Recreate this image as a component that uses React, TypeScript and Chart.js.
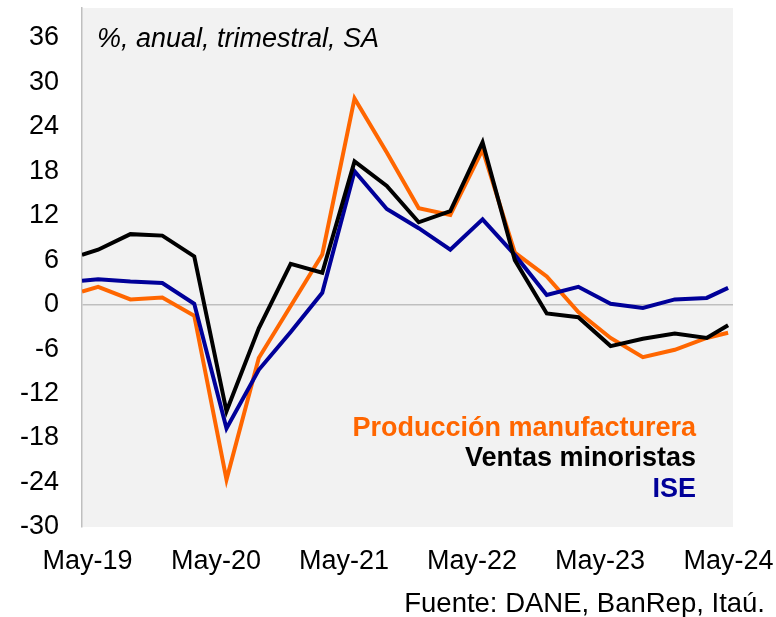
import { useEffect, useRef } from 'react';
import { Chart, registerables } from 'chart.js';

Chart.register(...registerables);

// Observation dates (quarterly, end of month) and values, % y/y
const pointDates = [
  '2019-04-15', '2019-05-31', '2019-08-31', '2019-11-30', '2020-02-29', '2020-05-31',
  '2020-08-31', '2020-11-30', '2021-02-28', '2021-05-31', '2021-08-31', '2021-11-30',
  '2022-02-28', '2022-05-31', '2022-08-31', '2022-11-30', '2023-02-28', '2023-05-31',
  '2023-08-31', '2023-11-30', '2024-02-29', '2024-04-30',
];
const produccionManufacturera = [
  1.75, 2.4, 0.7, 0.95, -1.5, -23.6, -7.2, -0.2, 6.75, 27.8, 20.5, 13.0,
  12.1, 20.9, 7.0, 3.8, -1.0, -4.5, -7.1, -6.1, -4.5, -3.8,
];
const ventasMinoristas = [
  6.7, 7.4, 9.5, 9.3, 6.5, -14.4, -3.2, 5.5, 4.3, 19.3, 16.0, 11.1,
  12.6, 21.9, 6.0, -1.2, -1.7, -5.6, -4.6, -3.9, -4.5, -2.8,
];
const ise = [
  3.2, 3.4, 3.1, 2.9, 0.1, -16.7, -8.8, -3.7, 1.6, 18.0, 12.9, 10.3,
  7.4, 11.5, 6.7, 1.3, 2.4, 0.1, -0.45, 0.7, 0.9, 2.25,
];
const xTickDates = ['2019-05-01', '2020-05-01', '2021-05-01', '2022-05-01', '2023-05-01', '2024-05-01'];
const xTickLabels = ['May-19', 'May-20', 'May-21', 'May-22', 'May-23', 'May-24'];
const yTickValues = [-30, -24, -18, -12, -6, 0, 6, 12, 18, 24, 30, 36];
const xAxisStart = '2019-04-15';
const xAxisEnd = '2024-05-14';
const yAxisMin = -30;
const yAxisMax = 40;

const titleText = '%, anual, trimestral, SA';
const sourceText = 'Fuente: DANE, BanRep, Itaú.';
const seriesNames = ['Producción manufacturera', 'Ventas minoristas', 'ISE'];
const seriesColors = ['#ff6600', '#000000', '#000099'];

const FONT = '"Liberation Sans", Arial, sans-serif';
const DAY = 86400000;
const ORIGIN = Date.UTC(2019, 4, 1);
const toDay = (s: string) => {
  const [y, m, d] = s.split('-').map(Number);
  return (Date.UTC(y, m - 1, d) - ORIGIN) / DAY;
};

const toPoints = (vals: number[]) => vals.map((v, i) => ({ x: toDay(pointDates[i]), y: v }));

const zeroPadding = (s: any) => {
  s.paddingTop = 0;
  s.paddingBottom = 0;
  s.paddingLeft = 0;
  s.paddingRight = 0;
};

const decorPlugin = {
  id: 'decor',
  beforeDraw(chart: any) {
    const { ctx, chartArea } = chart;
    ctx.save();
    ctx.fillStyle = '#ffffff';
    ctx.fillRect(0, 0, chart.width, chart.height);
    ctx.fillStyle = '#f2f2f2';
    ctx.fillRect(chartArea.left, chartArea.top, chartArea.right - chartArea.left, chartArea.bottom - chartArea.top);
    ctx.restore();
  },
  afterDraw(chart: any) {
    const { ctx, chartArea } = chart;
    ctx.save();
    ctx.fillStyle = '#000';
    ctx.font = `italic 27px ${FONT}`;
    ctx.textAlign = 'left';
    ctx.textBaseline = 'middle';
    ctx.fillText(titleText, chartArea.left + 15, 39);

    ctx.font = `bold 27px ${FONT}`;
    ctx.textAlign = 'right';
    ctx.textBaseline = 'alphabetic';
    const baselines = [436, 466, 497];
    seriesNames.forEach((n, i) => {
      ctx.fillStyle = seriesColors[i];
      ctx.fillText(n, chartArea.right - 37, baselines[i]);
    });

    ctx.fillStyle = '#000';
    ctx.font = `27.5px ${FONT}`;
    ctx.fillText(sourceText, chart.width - 11, 612);
    ctx.restore();
  },
};

export default function App() {
  const ref = useRef<HTMLCanvasElement>(null);
  useEffect(() => {
    document.body.style.margin = '0';
    const canvas = ref.current!;
    const tickDays = xTickDates.map(toDay);
    const chart = new Chart(canvas, {
      type: 'line',
      data: {
        datasets: [
          { label: seriesNames[0], data: toPoints(produccionManufacturera), borderColor: seriesColors[0], borderWidth: 4, pointRadius: 0, tension: 0, order: 2 },
          { label: seriesNames[1], data: toPoints(ventasMinoristas), borderColor: seriesColors[1], borderWidth: 4, pointRadius: 0, tension: 0, order: 0 },
          { label: seriesNames[2], data: toPoints(ise), borderColor: seriesColors[2], borderWidth: 4, pointRadius: 0, tension: 0, order: 1 },
        ],
      },
      options: {
        animation: false,
        responsive: false,
        layout: { padding: { left: 0, right: 43, top: 8, bottom: 0 } },
        plugins: { legend: { display: false }, tooltip: { enabled: false } },
        scales: {
          x: {
            type: 'linear',
            min: toDay(xAxisStart),
            max: toDay(xAxisEnd),
            afterBuildTicks: (s: any) => { s.ticks = tickDays.map((v) => ({ value: v })); },
            afterFit: (s: any) => { s.height = 90; zeroPadding(s); },
            ticks: {
              callback: (_v: any, i: number) => xTickLabels[i],
              font: { family: FONT, size: 27 },
              color: '#000',
              padding: 10,
              maxRotation: 0,
              autoSkip: false,
            },
            grid: { display: false },
            border: { display: false },
          },
          y: {
            min: yAxisMin,
            max: yAxisMax,
            afterBuildTicks: (s: any) => { s.ticks = yTickValues.map((v) => ({ value: v })); },
            afterFit: (s: any) => { s.width = 82; zeroPadding(s); },
            ticks: {
              font: { family: FONT, size: 27 },
              color: '#000',
              padding: 23,
            },
            grid: {
              drawTicks: false,
              color: (c: any) => (c.tick && c.tick.value === 0 ? '#bfbfbf' : 'rgba(0,0,0,0)'),
              lineWidth: 1.5,
            },
            border: { display: true, color: '#bfbfbf', width: 1.5 },
          },
        },
      },
      plugins: [decorPlugin],
    });
    return () => chart.destroy();
  }, []);
  return <canvas ref={ref} width={776} height={617} style={{ display: 'block' }} />;
}
